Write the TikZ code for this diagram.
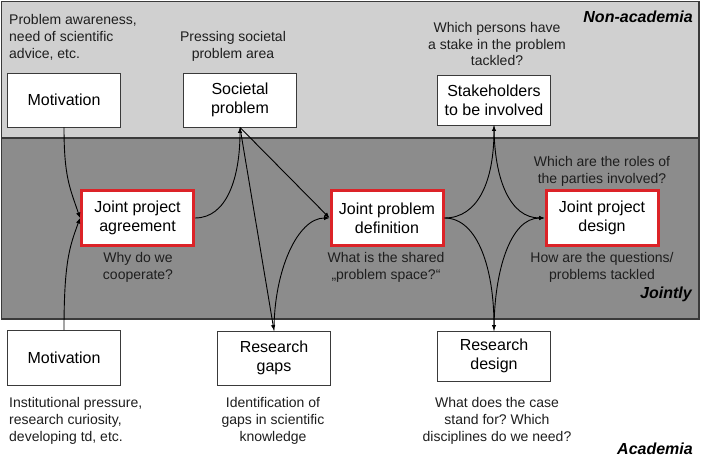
\documentclass[tikz,border=0pt]{standalone}
\usepackage{fontspec}
\setmainfont{Liberation Sans}
\usetikzlibrary{arrows.meta}
\definecolor{outsidegray}{HTML}{D0D0D0}
\definecolor{jointgray}{HTML}{8C8C8C}
\definecolor{framegray}{HTML}{3A3A3A}
\definecolor{jointred}{HTML}{DC2328}
\definecolor{notetext}{HTML}{1E1E1E}
\frenchspacing

\begin{document}
\begin{tikzpicture}[x=1pt, y=-1pt,
  box/.style={draw=framegray, fill=white, line width=0.9pt, minimum width=113pt, align=center,
    inner sep=2pt, font=\fontsize{16}{19}\selectfont},
  jointbox/.style={box, draw=jointred, line width=3pt, minimum width=112pt, minimum height=55pt},
  note/.style={align=center, inner sep=0pt, text=notetext, font=\fontsize{14}{16.8}\selectfont},
  zone/.style={anchor=east, inner sep=0pt, font=\fontsize{16}{19}\selectfont\bfseries\itshape},
  link/.style={-{Latex[length=5.5pt,width=4.5pt]}, line width=0.9pt}]
\useasboundingbox (0,0) rectangle (706,462);
\fill[white] (0,0) rectangle (706,462);

% Draw the two zones
\draw[framegray, fill=outsidegray, line width=1.2pt] (1.5,1.5) rectangle (699,138);
\draw[framegray, fill=jointgray, line width=1.2pt] (1.5,138) rectangle (699,319);
\node[zone] (nonacad) at (693,17) {Non-academia};
\node[zone] (jointly) at (692,294) {Jointly};
\node[zone] (acad) at (693,449) {Academia};

% Draw the steps of each side
\foreach \name/\x/\y/\h/\txt in {mottop/64/100/54/Motivation, societal/240/100/54/Societal\\problem,
    stake/494/100/50/Stakeholders\\to be involved, motbottom/64/358/55/Motivation,
    gaps/274/358/54/Research\\gaps, resdesign/494/356/50/Research\\design} {
  \node[box, minimum height=\h pt] (\name) at (\x,\y) {\txt};
}

% Draw the joint steps
\foreach \name/\x/\txt in {agreement/137.5/Joint project\\agreement,
    definition/387/Joint problem\\definition, design/602/Joint project\\design} {
  \node[jointbox] (\name) at (\x,218) {\txt};
}

% Questions beside the steps
\node[note, anchor=west, align=left] (awareness) at (9,37.5) {Problem awareness,\\need of scientific\\advice, etc.};
\node[note] (pressing) at (233,46) {Pressing societal\\problem area};
\node[note] (persons) at (497,44) {Which persons have\\a stake in the problem\\tackled?};
\node[note] (roles) at (602,171) {Which are the roles of\\the parties involved?};
\node[note] (why) at (138,267) {Why do we\\cooperate?};
\node[note] (shared) at (386,267) {What is the shared\\„problem space?“};
\node[note] (how) at (602,267) {How are the questions/\\problems tackled};
\node[note, anchor=west, align=left] (pressure) at (9,421) {Institutional pressure,\\research curiosity,\\developing td, etc.};
\node[note] (identify) at (273,421) {Identification of\\gaps in scientific\\knowledge};
\node[note] (case) at (497,421) {What does the case\\stand for? Which\\disciplines do we need?};

% Connect the steps
\draw[link] (mottop.south) .. controls +(0,50) and +(-10,-30) .. (agreement.west);
\draw[link] (motbottom.north) .. controls +(0,-70) and +(-10,28) .. (agreement.west);
\draw[link] (agreement.east) .. controls +(32,0) and +(0,50) .. (societal.south);
\draw[link] (societal.south) -- (definition.west);
\draw[link] (societal.south) -- (gaps.north);
\draw[link] (gaps.north) .. controls +(0,-60) and +(-32,0) .. (definition.west);
\draw[link] (definition.east) .. controls +(34,0) and +(0,55) .. (stake.south);
\draw[link] (definition.east) .. controls +(34,0) and +(0,-60) .. (resdesign.north);
\draw[link] (stake.south) .. controls +(0,55) and +(-34,0) .. (design.west);
\draw[link] (resdesign.north) .. controls +(0,-60) and +(-34,0) .. (design.west);
\end{tikzpicture}
\end{document}
